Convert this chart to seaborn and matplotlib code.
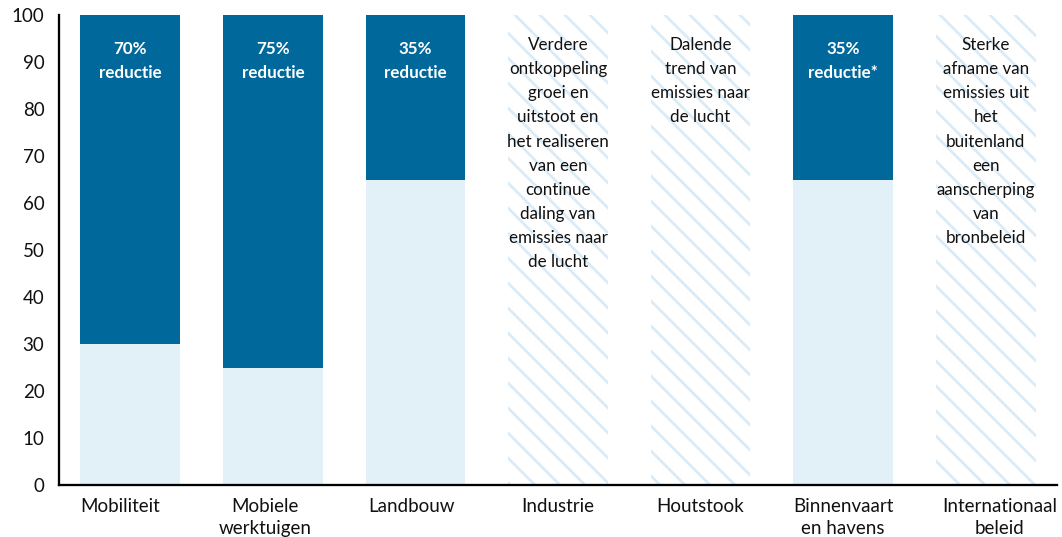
import matplotlib
matplotlib.use("Agg")
import matplotlib.pyplot as plt
import matplotlib.transforms as mtransforms
import seaborn as sns
import numpy as np

categories = ["Mobiliteit", "Mobiele\nwerktuigen", "Landbouw", "Industrie",
              "Houtstook", "Binnenvaart\nen havens", "Internationaal\nbeleid"]
totals = [100, 100, 100, 100, 100, 100, 100]
remaining = [30, 25, 65, np.nan, np.nan, 65, np.nan]
hatched = [False, False, False, True, True, False, True]
bar_labels = [
    "70%\nreductie",
    "75%\nreductie",
    "35%\nreductie",
    "Verdere\nontkoppeling\ngroei en\nuitstoot en\nhet realiseren\nvan een\ncontinue\ndaling van\nemissies naar\nde lucht",
    "Dalende\ntrend van\nemissies naar\nde lucht",
    "35%\nreductie*",
    "Sterke\nafname van\nemissies uit\nhet\nbuitenland\neen\naanscherping\nvan\nbronbeleid",
]
yticks = [0, 10, 20, 30, 40, 50, 60, 70, 80, 90, 100]

DARK = "#01689B"
LIGHT = "#E2F0F8"
HATCH = "#D9EBF6"

sns.set_theme(style="white")
plt.rcParams["font.family"] = ["Lato", "DejaVu Sans"]
plt.rcParams["hatch.linewidth"] = 1.3
plt.rcParams["hatch.color"] = HATCH

DPI = 150
fig = plt.figure(figsize=(1062 / DPI, 537 / DPI), dpi=DPI)
ax = fig.add_axes([59 / 1062, 1 - 485 / 537, (1057 - 59) / 1062, (485 - 15) / 537])

palette = {c: ("white" if h else DARK) for c, h in zip(categories, hatched)}
sns.barplot(x=categories, y=totals, hue=categories, palette=palette, width=0.7,
            saturation=1, legend=False, ax=ax, linewidth=0)
for cont, h in zip(ax.containers, hatched):
    for p in cont.patches:
        if h:
            p.set_facecolor("white")
            p.set_edgecolor(HATCH)
            p.set_hatch("\\\\")
            p.set_linewidth(0)

sns.barplot(x=categories, y=remaining, color=LIGHT, width=0.7, saturation=1,
            ax=ax, linewidth=0)

for i, (lab, h) in enumerate(zip(bar_labels, hatched)):
    if h:
        ax.text(i, 95.3, lab, ha="center", va="top", color="#111111",
                fontsize=8.2, linespacing=1.625)
    else:
        ax.text(i, 94.5, lab, ha="center", va="top", color="white",
                fontsize=8.2, fontweight="bold", linespacing=1.625)

ax.set_xlim(-0.5, 6.5)
ax.set_ylim(0, 100)
ax.set_yticks(yticks)
ax.set_yticklabels([str(t) for t in yticks], fontsize=9)
ax.set_xticks(range(len(categories)))
ax.set_xticklabels(categories, fontsize=9, linespacing=1.4)
ax.tick_params(axis="both", length=0, colors="#111111")
ax.tick_params(axis="y", pad=7)
ax.tick_params(axis="x", pad=6)
ax.set_xlabel("")
ax.set_ylabel("")

# small horizontal nudges of the category labels (pixels)
label_shift_px = [-10, -8, -4, 0, 0, 0, 14]
for lbl, dx in zip(ax.get_xticklabels(), label_shift_px):
    off = mtransforms.ScaledTranslation(dx / DPI, 0, fig.dpi_scale_trans)
    lbl.set_transform(lbl.get_transform() + off)

for s in ["top", "right"]:
    ax.spines[s].set_visible(False)
for s in ["left", "bottom"]:
    ax.spines[s].set_color("black")
    ax.spines[s].set_linewidth(1.1)
ax.grid(False)

fig.savefig("out.png", dpi=DPI, facecolor="white")
